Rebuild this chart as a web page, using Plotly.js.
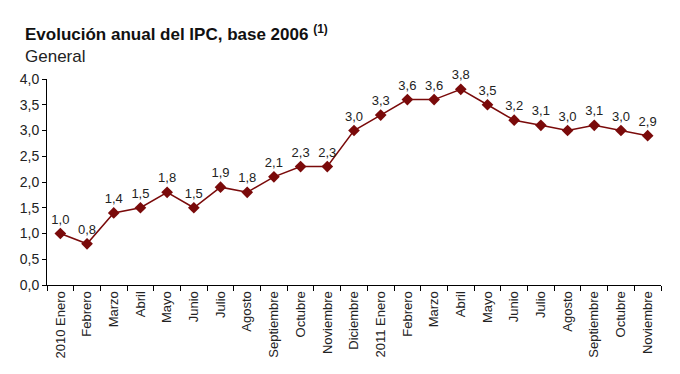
<!DOCTYPE html>
<html>
<head>
<meta charset="utf-8">
<script src="https://cdn.plot.ly/plotly-3.0.1.min.js"></script>
<style>html,body{margin:0;padding:0;background:#fff;}#chart{width:680px;height:374px;}</style>
</head>
<body>
<div id="chart"></div>
<script>
const months = ["2010 Enero","Febrero","Marzo","Abril","Mayo","Junio","Julio","Agosto","Septiembre","Octubre","Noviembre","Diciembre","2011 Enero","Febrero","Marzo","Abril","Mayo","Junio","Julio","Agosto","Septiembre","Octubre","Noviembre"];
const ipc = [1.0,0.8,1.4,1.5,1.8,1.5,1.9,1.8,2.1,2.3,2.3,3.0,3.3,3.6,3.6,3.8,3.5,3.2,3.1,3.0,3.1,3.0,2.9];
const xIdx = months.map((m,i)=>i);
const labels = ipc.map(v=>v.toFixed(1).replace('.',','));

const color = '#7a0a0a';
const trace = {
  x: xIdx, y: ipc, type: 'scatter', mode: 'lines+markers+text',
  line: {color: color, width: 1.5},
  marker: {symbol: 'diamond', size: 9, color: color},
  text: labels, textposition: 'top center',
  textfont: {family: 'Liberation Sans, Arial', size: 13, color: '#222'},
  cliponaxis: false, hoverinfo: 'skip'
};
const layout = {
  width: 680, height: 374,
  margin: {l: 47, r: 19, t: 79, b: 89},
  paper_bgcolor: '#fff', plot_bgcolor: '#fff',
  separators: ',.',
  showlegend: false,
  font: {family: 'Liberation Sans, Arial', size: 13, color: '#222'},
  xaxis: {
    range: [-0.5, 22.5], tickmode: 'array', tickvals: xIdx, ticktext: months,
    tickangle: -90, ticks: '', showgrid: false, zeroline: false,
    showline: true, linecolor: '#000', linewidth: 1,
    tickfont: {size: 13, color: '#222'},
    minor: {tick0: -0.5, dtick: 1, ticks: 'outside', ticklen: 5, tickcolor: '#000', showgrid: false}
  },
  yaxis: {
    range: [0, 4], dtick: 0.5, tick0: 0, tickformat: '.1f',
    ticks: 'outside', ticklen: 4, tickcolor: '#000',
    showgrid: false, zeroline: false, showline: true, linecolor: '#000', linewidth: 1,
    tickfont: {size: 14, color: '#222'}
  },
  annotations: [
    {xref: 'paper', yref: 'paper', x: -0.039, y: 1.225, xanchor: 'left', yanchor: 'middle', showarrow: false,
     text: '<b>Evolución anual del IPC, base 2006</b> <b><sup>(1)</sup></b>', font: {size: 17, color: '#111'}},
    {xref: 'paper', yref: 'paper', x: -0.039, y: 1.107, xanchor: 'left', yanchor: 'middle', showarrow: false,
     text: 'General', font: {size: 17, color: '#222'}}
  ]
};
Plotly.newPlot('chart', [trace], layout, {displayModeBar: false, staticPlot: true});
</script>
</body>
</html>
